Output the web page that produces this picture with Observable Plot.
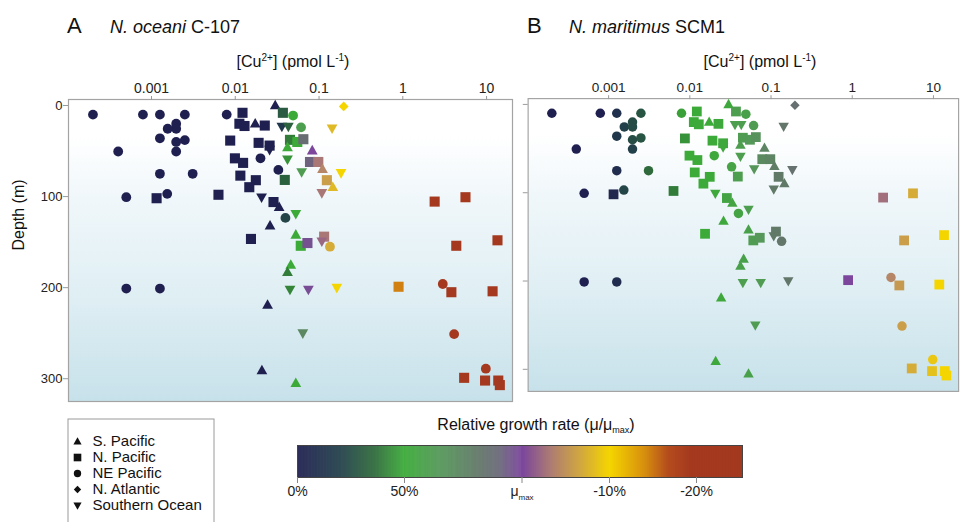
<!DOCTYPE html>
<html><head><meta charset="utf-8">
<script src="https://cdn.jsdelivr.net/npm/d3@7"></script>
<script src="https://cdn.jsdelivr.net/npm/@observablehq/plot@0.6"></script>
<style>
html,body{margin:0;padding:0;overflow:hidden;background:#fff;}
body{width:962px;height:522px;position:relative;font-family:"Liberation Sans",Arial,sans-serif;color:#111;}
.abs{position:absolute;}
#overlay{position:absolute;left:0;top:0;pointer-events:none;}
</style></head><body>
<svg width="0" height="0" style="position:absolute"><defs>
<linearGradient id="bgGrad" x1="0" y1="0" x2="0" y2="1">
<stop offset="0" stop-color="#ffffff"/><stop offset="0.12" stop-color="#ffffff"/>
<stop offset="0.33" stop-color="#f0f7fa"/><stop offset="0.64" stop-color="#e0eff4"/>
<stop offset="1" stop-color="#c7e1ea"/></linearGradient></defs></svg>
<div id="panelA" class="abs" style="left:0;top:70px"></div>
<div id="panelB" class="abs" style="left:516px;top:70px"></div>
<div id="legend" class="abs" style="left:67px;top:418px"></div>
<div id="cbar" class="abs" style="left:287px;top:440px"></div>
<svg id="overlay" width="962" height="522" font-family="Liberation Sans, Arial, sans-serif" fill="#111">
<text x="67" y="33" font-size="22">A</text>
<text x="110" y="33" font-size="18"><tspan font-style="italic">N. oceani</tspan> C-107</text>
<text x="527" y="33" font-size="22">B</text>
<text x="569" y="33" font-size="18"><tspan font-style="italic">N. maritimus</tspan> SCM1</text>
<text x="293" y="67" text-anchor="middle" font-size="16">[Cu<tspan font-size="10" dy="-6">2+</tspan><tspan dy="6">] (pmol L</tspan><tspan font-size="10" dy="-6">-1</tspan><tspan dy="6">)</tspan></text>
<text x="760" y="67" text-anchor="middle" font-size="16">[Cu<tspan font-size="10" dy="-6">2+</tspan><tspan dy="6">] (pmol L</tspan><tspan font-size="10" dy="-6">-1</tspan><tspan dy="6">)</tspan></text>
<text transform="translate(24,215) rotate(-90)" text-anchor="middle" font-size="16">Depth (m)</text>
<text x="536" y="430" text-anchor="middle" font-size="16">Relative growth rate (μ/μ<tspan font-size="9" dy="3">max</tspan><tspan dy="-3">)</tspan></text>
</svg>
<script>
// ---------- data ----------
const regions = ["S. Pacific", "N. Pacific", "NE Pacific", "N. Atlantic", "Southern Ocean"];
const xTicks = [0.001, 0.01, 0.1, 1, 10];
const xTickLabels = ["0.001", "0.01", "0.1", "1", "10"];
const yTicks = [0, 100, 200, 300];
const growthTicks = [0, 50, 100, 110, 120];
const growthTickLabels = ["0%", "50%", "μmax", "-10%", "-20%"];
const growthStops = [0, 20, 36, 50, 65, 81, 90, 100, 103.3, 106.7, 110, 113.9, 116.7, 119.3, 125.3];
const stopColors = ["#1f2050", "#22404a", "#2e6a3b", "#3caa38", "#55985a", "#627868", "#6a6a78", "#7b469c",
  "#ae7d72", "#d2a83e", "#f5d500", "#d8900e", "#b44c1e", "#a4391f", "#a3391f"];
const barBreaks = [0, 50, 100, 110, 120, 125.3];

// Cu2+ (pmol/L), depth (m), region index, growth in panel A (N. oceani), growth in panel B (N. maritimus)
const cu = [0.0002, 0.00079, 0.00126, 0.0025, 0.0079, 0.0122, 0.030, 0.037, 0.049, 0.197,
  0.00156, 0.00197, 0.00197, 0.0112, 0.0129, 0.0173, 0.0225, 0.036, 0.043, 0.061, 0.143,
  0.00126, 0.0025, 0.00197, 0.00197, 0.0004, 0.0087, 0.019, 0.0257, 0.0257, 0.045, 0.055, 0.065, 0.042, 0.083,
  0.020, 0.0099, 0.0124, 0.042, 0.078, 0.098, 0.11, 0.0327, 0.062, 0.183, 0.00126, 0.0031, 0.0115, 0.0176, 0.0147, 0.039, 0.124, 0.146, 0.108,
  0.0005, 0.00115, 0.00154, 0.0063, 0.0206, 0.0286, 0.0334, 2.4, 5.6,
  0.0397, 0.0528, 0.026, 0.0528, 0.0154, 0.0605, 0.0727, 0.115, 0.108, 0.135, 4.35, 13.5,
  0.046, 0.042, 0.0005, 0.00126, 0.045, 0.0746, 0.163, 0.89, 3.0, 3.8, 11.8, 0.0243, 0.064, 4.1, 0.0208, 0.0528, 9.8, 5.4, 9.6, 13.8, 14.4];
const depth = [10, 10, 10, 10, 10, 8, 0, 8, 11, 1,
  25.5, 20, 25.5, 20, 22.5, 20, 22, 23, 23, 24, 25,
  36, 38, 40, 50.5, 50.5, 38.5, 41, 44, 48.5, 37.7, 40, 37, 46, 49.5,
  58, 58, 63, 59, 62, 62, 70, 70.7, 73, 74, 75, 75, 77, 82, 89.7, 81.7, 82, 89.7, 96,
  100.7, 101.8, 97, 98, 100.7, 106, 111.7, 105.5, 100.7,
  123.4, 119, 132, 142, 146.5, 154, 151, 144, 149, 155, 154, 148,
  175, 183, 201, 201, 202, 202, 200, 199, 196, 205, 204, 219, 250, 251, 291, 305, 289, 299, 302, 302, 307];
const regionIdx = [2, 2, 2, 2, 2, 1, 0, 1, 2, 3,
  2, 2, 2, 1, 1, 0, 1, 4, 4, 2, 4,
  2, 2, 2, 2, 2, 1, 1, 1, 4, 1, 1, 1, 0, 0,
  2, 1, 1, 4, 1, 1, 0, 2, 4, 4, 2, 2, 1, 1, 1, 1, 1, 0, 4,
  2, 1, 2, 1, 4, 1, 0, 1, 1,
  2, 4, 0, 0, 1, 1, 1, 1, 4, 2, 1, 1,
  0, 0, 2, 2, 4, 4, 4, 1, 2, 1, 1, 0, 4, 2, 0, 0, 2, 1, 1, 1, 1];
const growthA = [0, 0, 0, 0, 0, 0, 0, 30, 50, 110,
  0, 0, 0, 0, 0, 0, 0, 15, 33, 60, 108,
  0, 0, 0, 0, 0, 0, 0, 0, 0, 40, 50, 88, 50, 100,
  0, 0, 0, 45, 92, 103, 104, 0, 62, 110, 0, 0, 0, 0, 0, 32, 106, 108, 103,
  0, 0, 0, 0, 0, 0, 0, 122, 122,
  22, 50, 0, 50, 0, 50, 97, 103, 102, 107, 122, 122,
  50, 40, 0, 0, 42, 98, 110, 114.5, 121, 122, 122, 0, 73, 121, 0, 50, 121, 122, 122, 122, 122];
const growthB = [0, 0, 10, 28, 48, 50, 52, 60, 58, 86,
  20, 25, 24, 50, 50, 50, 52, 60, 60, 62, 82,
  15, 28, 25, 20, 0, 45, 50, 52, 52, 62, 64, 68, 60, 75,
  52, 50, 50, 60, 72, 75, 78, 56, 66, 85, 8, 36, 50, 50, 50, 60, 80, 80, 80,
  0, 5, 22, 40, 52, 55, 55, 102.5, 107,
  55, 60, 52, 58, 50, 62, 65, 80, 80, 82, 106, 110,
  58, 58, 0, 8, 60, 62, 82, 100, 104, 105.5, 110, 52, 62, 106, 52, 58, 109, 107, 108.5, 110, 110];

const points = cu.map((c, i) => ({cu: c, depth: depth[i], region: regions[regionIdx[i]], gA: growthA[i], gB: growthB[i]}));

// ---------- symbols ----------
const rad = size => Math.sqrt(size / Math.PI);
const symTriUp = {draw(ctx, size) { const r = rad(size), w = r * 1.1, h = r * 1.95;
  ctx.moveTo(0, -h * 0.6); ctx.lineTo(w, h * 0.4); ctx.lineTo(-w, h * 0.4); ctx.closePath(); }};
const symTriDown = {draw(ctx, size) { const r = rad(size), w = r * 1.1, h = r * 1.95;
  ctx.moveTo(0, h * 0.6); ctx.lineTo(w, -h * 0.4); ctx.lineTo(-w, -h * 0.4); ctx.closePath(); }};
const symSquare = {draw(ctx, size) { const r = rad(size) * 1.03;
  ctx.moveTo(-r, -r); ctx.lineTo(r, -r); ctx.lineTo(r, r); ctx.lineTo(-r, r); ctx.closePath(); }};
const symCircle = {draw(ctx, size) { const r = rad(size); ctx.moveTo(r, 0); ctx.arc(0, 0, r, 0, 2 * Math.PI); }};
const symDiamond = {draw(ctx, size) { const r = rad(size) * 1.0;
  ctx.moveTo(0, -r); ctx.lineTo(r, 0); ctx.lineTo(0, r); ctx.lineTo(-r, 0); ctx.closePath(); }};
const symbolScale = {domain: regions, range: [symTriUp, symSquare, symCircle, symDiamond, symTriDown]};
const colorScale = {type: "linear", domain: growthStops, range: stopColors, interpolate: "rgb"};

const font = "Liberation Sans, Arial, sans-serif";
function panel(key, showY, width, marginLeft) {
  return Plot.plot({
    width, height: 337, marginTop: 29, marginBottom: 6, marginLeft, marginRight: 4,
    style: {background: "transparent", fontFamily: font, color: "#222", overflow: "visible"},
    x: {type: "log", domain: [1.021e-4, 20.4]},
    y: {domain: [-6.6, 325], reverse: true},
    color: colorScale,
    symbol: symbolScale,
    marks: [
      Plot.frame({fill: "url(#bgGrad)", stroke: "#a3a3a3", strokeWidth: 1.2}),
      Plot.axisX({anchor: "top", ticks: xTicks, tickFormat: d => xTickLabels[xTicks.indexOf(d)],
        tickSize: 4, tickPadding: 3, fontSize: 14, label: null, stroke: "#999"}),
      Plot.axisY({anchor: "left", ticks: yTicks, tickFormat: showY ? d => String(d) : () => "",
        tickSize: 5, tickPadding: 1, fontSize: 13, label: null, stroke: "#999"}),
      Plot.dot(points, {x: "cu", y: "depth", symbol: "region", fill: key, r: 4.9})
    ]
  });
}
document.getElementById("panelA").append(panel("gA", true, 516, 68));
document.getElementById("panelB").append(panel("gB", false, 460, 12));

// ---------- legend ----------
document.getElementById("legend").append(Plot.plot({
  width: 147, height: 110, margin: 0,
  style: {background: "transparent", fontFamily: font, color: "#111", overflow: "visible"},
  x: {domain: [0, 1], range: [10, 25]},
  y: {type: "point", domain: regions, range: [13, 96]},
  symbol: symbolScale,
  marks: [
    Plot.frame({stroke: "#9a9a9a", inset: 0.5}),
    Plot.dot(regions, {x: () => 0, y: d => d, symbol: d => d, fill: "#111", r: 3.7}),
    Plot.text(regions, {x: () => 1, y: d => d, text: d => d, textAnchor: "start", fontSize: 15})
  ],
  axis: null
}));

// ---------- colour bar ----------
const barSamples = d3.range(0, 125.3, 0.2);
const cb = Plot.plot({
  width: 470, height: 66, marginTop: 5, marginBottom: 29, marginLeft: 10, marginRight: 15,
  style: {background: "transparent", fontFamily: font, color: "#222", overflow: "visible"},
  x: {type: "linear", domain: barBreaks, range: [10, 117, 234.5, 322, 409, 455]},
  color: colorScale,
  marks: [
    Plot.rect(barSamples, {x1: d => d, x2: d => Math.min(d + 0.35, 125.3), fill: d => d}),
    Plot.frame({stroke: "#444", strokeWidth: 1}),
    Plot.axisX({anchor: "bottom", ticks: growthTicks, tickFormat: d => growthTickLabels[growthTicks.indexOf(d)],
      tickSize: 6, tickPadding: 3, fontSize: 14, label: null, stroke: "#888"})
  ]
});
cb.querySelectorAll("text").forEach(t => {
  if (t.textContent === "μmax") {
    t.textContent = "μ";
    const ts = document.createElementNS("http://www.w3.org/2000/svg", "tspan");
    ts.setAttribute("font-size", "8"); ts.setAttribute("dy", "4"); ts.textContent = "max";
    t.appendChild(ts);
  }
});
document.getElementById("cbar").append(cb);
</script>
</body></html>
